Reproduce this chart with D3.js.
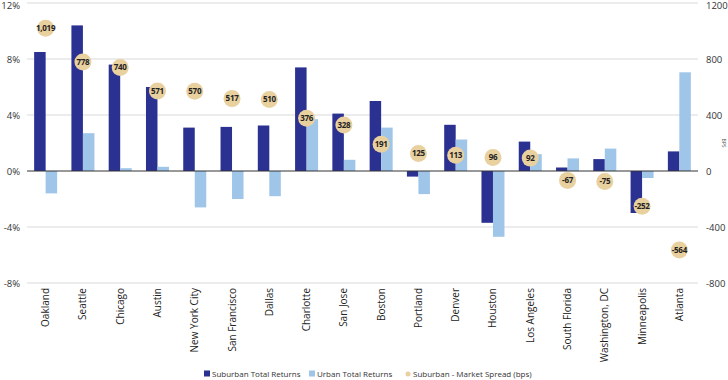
<!DOCTYPE html>
<html><head><meta charset="utf-8">
<script src="https://cdnjs.cloudflare.com/ajax/libs/d3/7.8.5/d3.min.js"></script>
<style>
body{margin:0;background:#fff;}
text{font-family:"Open Sans","Liberation Sans",sans-serif;}
</style></head>
<body><svg id="c" width="728" height="380"></svg>
<script>
const categories = ["Oakland","Seattle","Chicago","Austin","New York City","San Francisco","Dallas","Charlotte","San Jose","Boston","Portland","Denver","Houston","Los Angeles","South Florida","Washington, DC","Minneapolis","Atlanta"];
const suburbanReturns = [8.5,10.4,7.6,6.0,3.1,3.15,3.25,7.4,4.1,5.0,-0.4,3.3,-3.7,2.1,0.25,0.85,-3.0,1.4];
const urbanReturns = [-1.6,2.7,0.2,0.3,-2.6,-2.0,-1.8,3.7,0.8,3.1,-1.65,2.25,-4.7,1.2,0.9,1.6,-0.5,7.05];
const spreadBps = [1019,778,740,571,570,517,510,376,328,191,125,113,96,92,-67,-75,-252,-564];
const leftTicks = [12,8,4,0,-4,-8];
const rightTicks = [1200,800,400,0,-400,-800];
const seriesNames = ["Suburban Total Returns","Urban Total Returns","Suburban - Market Spread (bps)"];

const svg = d3.select("#c");
const L = 27, R = 698, T = 3, B = 283;
const x = d3.scaleBand().domain(categories).range([L,R]).paddingInner(0).paddingOuter(0);
const y = d3.scaleLinear().domain([-8,12]).range([B,T]);
const y2 = d3.scaleLinear().domain([-800,1200]).range([B,T]);
const dark = "#2b3190", light = "#9fc5e8", tan = "#e9d09f";
const bw = 11.5;
const hy = s => String(s).replace(/\u2212/g,"-");

// gridlines
svg.append("g").selectAll("line").data(leftTicks.filter(d=>d!==0)).join("line")
  .attr("x1",L).attr("x2",R).attr("y1",d=>y(d)).attr("y2",d=>y(d))
  .attr("stroke","#d9d9d9").attr("stroke-width",1);

// left axis
const ya = d3.axisLeft(y).tickValues(leftTicks).tickFormat(d=>hy(d)+"%").tickSize(0).tickPadding(7);
const gl = svg.append("g").attr("transform",`translate(${L},0)`).call(ya);
gl.select(".domain").remove();
gl.selectAll("text").attr("font-size",9.5).attr("fill","#333")
  .attr("dy",d=>d===12?"0.55em":"0.32em");

// right axis
const yb = d3.axisRight(y2).tickValues(rightTicks).tickFormat(d=>hy(d)).tickSize(0).tickPadding(8);
const gr = svg.append("g").attr("transform",`translate(${R},0)`).call(yb);
gr.select(".domain").remove();
gr.selectAll("text").attr("font-size",9.5).attr("fill","#333")
  .attr("dy",d=>d===1200?"0.55em":"0.32em");

svg.append("text").attr("transform",`translate(722,143) rotate(90)`).attr("text-anchor","middle")
  .attr("font-size",5).attr("fill","#555").text("BPS");

// bars
const cx = c => x(c) + x.bandwidth()/2;
svg.append("g").selectAll("rect").data(categories).join("rect")
  .attr("x",(c)=>cx(c)-bw).attr("width",bw)
  .attr("y",(c,i)=>y(Math.max(0,suburbanReturns[i])))
  .attr("height",(c,i)=>Math.abs(y(suburbanReturns[i])-y(0)))
  .attr("fill",dark);
svg.append("g").selectAll("rect").data(categories).join("rect")
  .attr("x",(c)=>cx(c)).attr("width",bw)
  .attr("y",(c,i)=>y(Math.max(0,urbanReturns[i])))
  .attr("height",(c,i)=>Math.abs(y(urbanReturns[i])-y(0)))
  .attr("fill",light);

// zero line
svg.append("line").attr("x1",L).attr("x2",R).attr("y1",y(0)).attr("y2",y(0))
  .attr("stroke","#333").attr("stroke-width",1);

// bubbles
const fmt = d => hy(d3.format(",")(d));
const gb = svg.append("g").selectAll("g").data(categories).join("g")
  .attr("transform",(c,i)=>`translate(${cx(c)},${y2(spreadBps[i])})`);
gb.append("circle").attr("r",8.5).attr("fill",tan);
gb.append("text").attr("text-anchor","middle").attr("dy","0.35em")
  .attr("font-size",8).attr("font-weight","bold").attr("fill","#222")
  .attr("letter-spacing","-0.3")
  .text((c,i)=>fmt(spreadBps[i]));

// category labels
svg.append("g").selectAll("text").data(categories).join("text")
  .attr("transform",c=>`translate(${cx(c)+3.5},${B+5}) rotate(-90)`)
  .attr("text-anchor","end").attr("font-size",10).attr("fill","#222").text(c=>c);

// legend
const ly = 374;
const lg = svg.append("g");
lg.append("rect").attr("x",204).attr("y",ly-3.5).attr("width",6).attr("height",6).attr("fill",dark);
lg.append("text").attr("x",212).attr("y",ly).attr("dy","0.35em").attr("font-size",8).attr("fill","#333").text(seriesNames[0]);
lg.append("rect").attr("x",309).attr("y",ly-3.5).attr("width",6).attr("height",6).attr("fill",light);
lg.append("text").attr("x",317).attr("y",ly).attr("dy","0.35em").attr("font-size",8).attr("fill","#333").text(seriesNames[1]);
lg.append("circle").attr("cx",408).attr("cy",ly).attr("r",2.5).attr("fill",tan);
lg.append("text").attr("x",413).attr("y",ly).attr("dy","0.35em").attr("font-size",8).attr("fill","#333").text(seriesNames[2]);
</script></body></html>
